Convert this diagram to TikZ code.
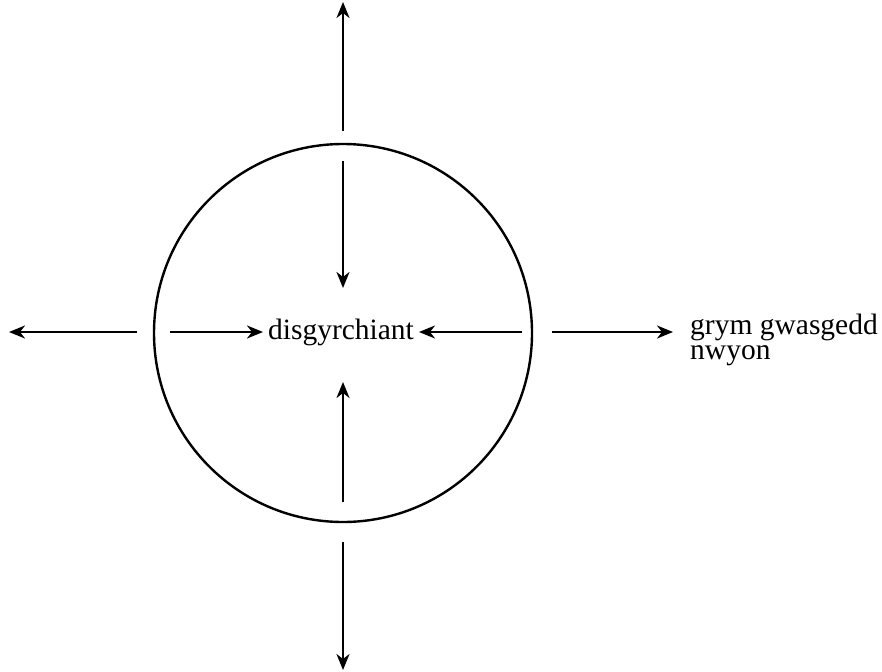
\documentclass[tikz,border=0pt]{standalone}
\usepackage{fontspec}
\setmainfont{Liberation Serif}
\usetikzlibrary{arrows.meta}
\begin{document}
\begin{tikzpicture}[x=1pt,y=-1pt,
  arr/.style={line width=2.4pt,-{Stealth[length=16pt,width=13pt,inset=5pt]}},
  lbl/.style={inner sep=0pt,font=\fontsize{29.5}{25}\selectfont}]
\useasboundingbox (0,0) rectangle (882,671);
\node[circle,draw,line width=2.4pt,minimum size=378pt,inner sep=0pt] (c) at (343,333) {};
\node[lbl,anchor=base] (g) at (341,339) {disgyrchiant};
\node[lbl,anchor=base west,align=left] (p) at (690,359) {grym gwasgedd\\nwyon};
% coordinates
\coordinate (tOs) at (343,131); \coordinate (tOe) at (343,2);
\coordinate (tIs) at (343,161); \coordinate (tIe) at (343,288);
\coordinate (bIs) at (343,502); \coordinate (bIe) at (343,382);
\coordinate (bOs) at (343,542); \coordinate (bOe) at (343,670);
\coordinate (lOs) at (137,332); \coordinate (lOe) at (9,332);
\coordinate (lIs) at (170,332); \coordinate (lIe) at (263,332);
\coordinate (rIs) at (522,332); \coordinate (rIe) at (419,332);
\coordinate (rOs) at (552,332); \coordinate (rOe) at (673,332);
\draw[arr] (tOs) -- (tOe);
\draw[arr] (tIs) -- (tIe);
\draw[arr] (bIs) -- (bIe);
\draw[arr] (bOs) -- (bOe);
\draw[arr] (lOs) -- (lOe);
\draw[arr] (lIs) -- (lIe);
\draw[arr] (rIs) -- (rIe);
\draw[arr] (rOs) -- (rOe);
\end{tikzpicture}
\end{document}
